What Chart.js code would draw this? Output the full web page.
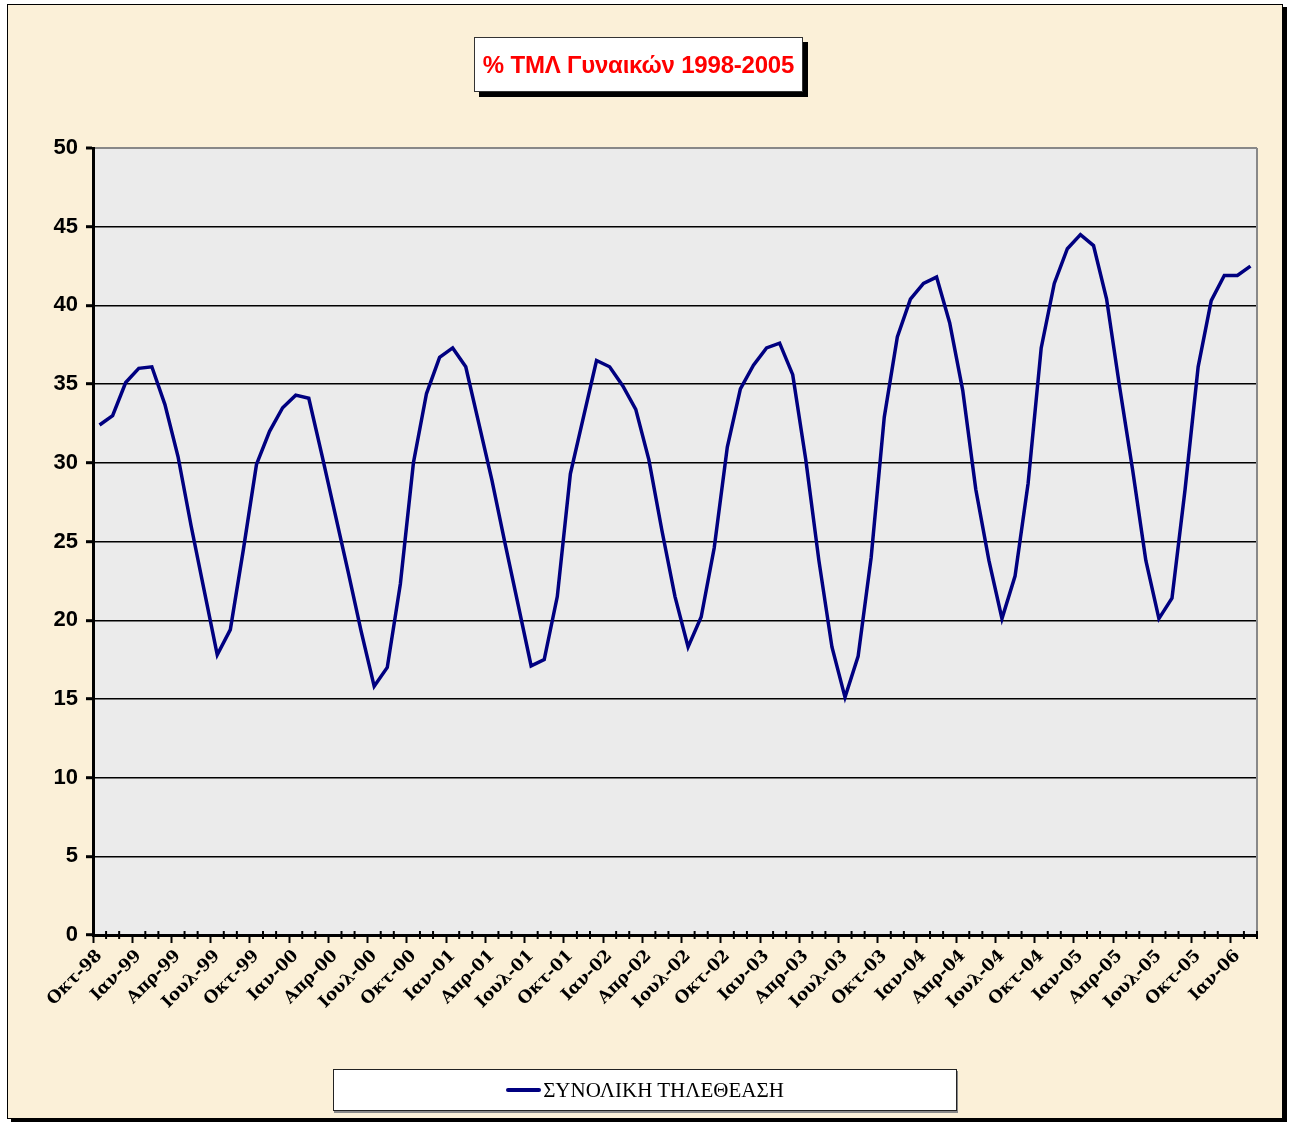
<!DOCTYPE html>
<html>
<head>
<meta charset="utf-8">
<title>% ΤΜΛ Γυναικών 1998-2005</title>
<script src="https://cdn.jsdelivr.net/npm/chart.js@4.4.1/dist/chart.umd.min.js"></script>
<style>
  html, body { margin: 0; padding: 0; background: #fff; }
  #wrap { position: relative; width: 1291px; height: 1124px; overflow: hidden; background: #fff; }
  #frame {
    position: absolute; left: 7px; top: 4px; width: 1274px; height: 1113px;
    border: 1.5px solid #000; background: #fbf0d8; box-shadow: 4px 3px 0 #000;
  }
  #scanChart { position: absolute; left: 0; top: 0; }
  #title {
    position: absolute; left: 474px; top: 37px; width: 327px; height: 53px;
    background: #fff; border: 1px solid #333; box-shadow: 5px 5px 0 #000;
    color: #ff0000; font: bold 24px "Liberation Sans", Arial, sans-serif;
    text-align: center; line-height: 53px; white-space: nowrap; letter-spacing: -0.2px;
  }
  #legend {
    position: absolute; left: 333px; top: 1069px; width: 622px; height: 40px;
    background: #fff; border: 1px solid #222; box-shadow: 1px 2px 0 #888;
    font: 21px "Liberation Serif", "Times New Roman", serif; color: #000;
    display: flex; align-items: center; justify-content: center;
  }
  #legend .swatch { display: inline-block; width: 35px; height: 4px; background: #000080; border-radius: 2px; margin-right: 2px; }
</style>
</head>
<body>
<div id="wrap">
  <div id="frame"></div>
  <canvas id="scanChart" width="1291" height="1124"></canvas>
  <div id="title"></div>
  <div id="legend"><span class="swatch"></span><span id="legend-text"></span></div>
</div>
<script>
// Chart data (monthly, Οκτ-98 .. Φεβ-06)
const chartTitle = '% ΤΜΛ Γυναικών 1998-2005';
const seriesName = 'ΣΥΝΟΛΙΚΗ ΤΗΛΕΘΕΑΣΗ';
const monthNames = ['Ιαν', 'Φεβ', 'Μαρ', 'Απρ', 'Μαϊ', 'Ιουν', 'Ιουλ', 'Αυγ', 'Σεπ', 'Οκτ', 'Νοε', 'Δεκ'];
const startMonth = 9;   // Οκτ
const startYear = 1998;
const tmlValues = [
    32.4, 33.0, 35.1, 36.0, 36.1, 33.7, 30.4, 26.0, 21.9, 17.8, 19.4, 24.5,
    29.9, 32.0, 33.5, 34.3, 34.1, 30.5, 26.8, 23.1, 19.3, 15.8, 17.0, 22.3,
    30.0, 34.4, 36.7, 37.3, 36.1, 32.5, 28.9, 24.9, 21.0, 17.1, 17.5, 21.5,
    29.3, 32.9, 36.5, 36.1, 34.9, 33.4, 30.2, 25.7, 21.5, 18.3, 20.2, 24.6,
    31.0, 34.7, 36.2, 37.3, 37.6, 35.6, 30.2, 23.8, 18.3, 15.1, 17.7, 24.0,
    32.9, 38.0, 40.4, 41.4, 41.8, 38.9, 34.6, 28.3, 23.8, 20.1, 22.8, 28.7,
    37.3, 41.4, 43.6, 44.5, 43.8, 40.4, 34.8, 29.5, 23.8, 20.1, 21.4, 28.3,
    36.1, 40.3, 41.9, 41.9, 42.5
];
const yMin = 0, yMax = 50, yStep = 5;
const labelEvery = 3;

const categories = tmlValues.map((_, i) => {
    const m = (startMonth + i) % 12;
    const y = startYear + Math.floor((startMonth + i) / 12);
    return monthNames[m] + '-' + String(y).slice(2);
});

document.getElementById('title').innerText = chartTitle;
document.getElementById('legend-text').innerText = seriesName;

// plot background, right border and minor ticks
const plotDecor = {
    id: 'plotDecor',
    beforeDraw(chart) {
        const a = chart.chartArea, c = chart.ctx;
        c.save();
        c.fillStyle = '#ebebeb';
        c.fillRect(a.left, a.top, a.right - a.left, a.bottom - a.top);
        c.restore();
    },
    afterDraw(chart) {
        const a = chart.chartArea, c = chart.ctx;
        const xs = chart.scales.x;
        const w = (a.right - a.left) / categories.length;
        c.save();
        c.strokeStyle = '#888';
        c.lineWidth = 2;
        c.beginPath();
        c.moveTo(a.right, a.top);
        c.lineTo(a.right, a.bottom);
        c.stroke();
        c.strokeStyle = '#000';
        c.lineWidth = 2;
        for (let i = 0; i <= categories.length; i++) {
            if (i % labelEvery === 0) continue;
            const x = xs.getPixelForValue(i) - w / 2;
            c.beginPath();
            c.moveTo(x, a.bottom - 4);
            c.lineTo(x, a.bottom + 4);
            c.stroke();
        }
        c.restore();
    }
};

const ctx = document.getElementById('scanChart').getContext('2d');
let tmlChart = new Chart(ctx, {
    type: 'line',
    data: {
        labels: categories,
        datasets: [{
            label: seriesName,
            data: tmlValues,
            borderColor: '#000080',
            borderWidth: 3.5,
            pointRadius: 0,
            fill: false,
            tension: 0
        }]
    },
    options: {
        responsive: false,
        animation: false,
        layout: { padding: { top: 148, right: 34, left: 0, bottom: 0 } },
        plugins: { legend: { display: false }, title: { display: false }, tooltip: { enabled: false } },
        scales: {
            x: {
                offset: true,
                afterFit: (s) => { s.height = 189; },
                border: { color: '#000', width: 3 },
                grid: {
                    offset: true,
                    drawOnChartArea: false,
                    tickLength: 8,
                    tickWidth: 2,
                    tickColor: (c) => (c.index % labelEvery === 0 ? '#000' : 'rgba(0,0,0,0)')
                },
                ticks: {
                    autoSkip: false,
                    minRotation: 45,
                    maxRotation: 45,
                    padding: 3,
                    color: '#000',
                    font: { family: '"DejaVu Serif", serif', weight: 'bold', size: 17 },
                    callback: (v, i) => (i % labelEvery === 0 ? categories[i] : '')
                }
            },
            y: {
                min: yMin,
                max: yMax,
                afterFit: (s) => { s.width = 93; },
                border: { color: '#000', width: 3 },
                grid: {
                    color: (c) => (c.tick && c.tick.value === yMax ? '#888' : '#000'),
                    lineWidth: (c) => (c.tick && c.tick.value === yMax ? 2 : 1.4),
                    tickColor: '#000',
                    tickLength: 7,
                    tickWidth: 3
                },
                ticks: {
                    stepSize: yStep,
                    padding: 8,
                    color: '#000',
                    font: { family: '"Liberation Sans", Arial, sans-serif', weight: 'bold', size: 22 }
                }
            }
        }
    },
    plugins: [plotDecor]
});
</script>
</body>
</html>
